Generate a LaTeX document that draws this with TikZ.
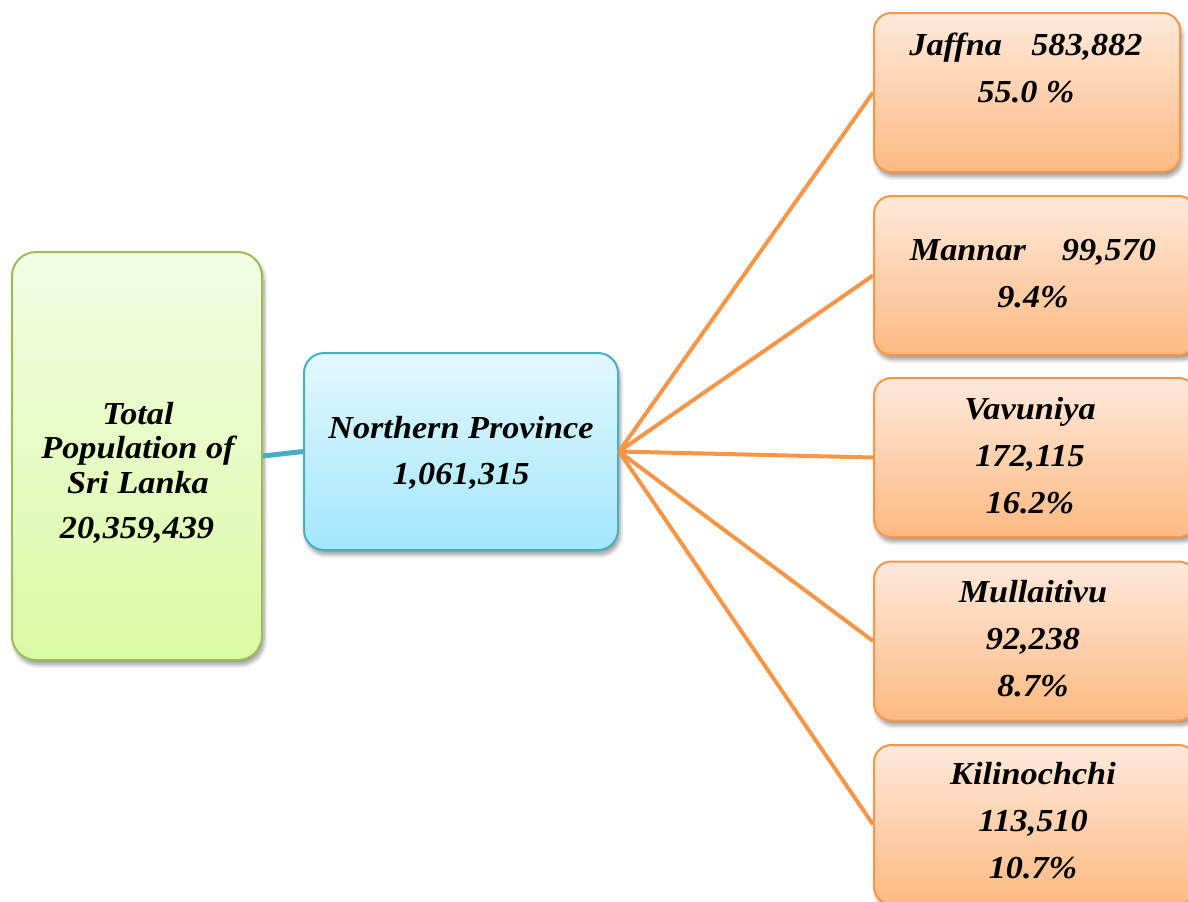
\documentclass[tikz,border=0pt]{standalone}
\usepackage{fontspec}
\setmainfont[FakeStretch=1.07]{Liberation Serif}
\usetikzlibrary{shadows.blur}
\definecolor{gbord}{HTML}{9BBB59}
\definecolor{gtop}{HTML}{F2FDE4}
\definecolor{gbot}{HTML}{DBFAA4}
\definecolor{bbord}{HTML}{4BACC6}
\definecolor{btop}{HTML}{E2F8FE}
\definecolor{bbot}{HTML}{A2E7FB}
\definecolor{obord}{HTML}{F79646}
\definecolor{otop}{HTML}{FEE9DB}
\definecolor{obot}{HTML}{FDBA82}
\tikzset{
  shad/.style={blur shadow={shadow xshift=1.5pt, shadow yshift=-3.5pt, shadow blur radius=3pt, shadow blur steps=8, shadow opacity=40}},
  gbox/.style={draw=gbord, line width=1.5pt, rounded corners=18pt, top color=gtop, bottom color=gbot, minimum width=187.5pt, minimum height=306pt, shad},
  bbox/.style={draw=bbord, line width=1.5pt, rounded corners=15pt, top color=btop, bottom color=bbot, minimum width=235.5pt, minimum height=147.75pt, shad},
  obox/.style={draw=obord, line width=1.5pt, rounded corners=13pt, top color=otop, bottom color=obot, minimum width=241.5pt, minimum height=119.25pt, shad},
  txt/.style={font=\fontsize{24}{26}\selectfont\bfseries\itshape, align=center, inner sep=0pt},
  otxt/.style={font=\fontsize{24}{35.25}\selectfont\bfseries\itshape, align=center, inner sep=0pt, anchor=north},
  bline/.style={draw=bbord, line width=3.75pt},
  oline/.style={draw=obord, line width=3pt}
}
\begin{document}
\begin{tikzpicture}[x=0.75pt, y=-0.75pt]
\useasboundingbox (0,0) rectangle (1188,901);
% boxes
\node[gbox] (g) at (137,456) {};
\node[bbox] (b) at (461,451.5) {};
\node[obox, minimum width=229.5pt] (j) at (1027,92.5) {};
\node[obox] (m) at (1035,275.5) {};
\node[obox] (v) at (1035,457.5) {};
\node[obox] (u) at (1035,641) {};
\node[obox] (k) at (1035,824.5) {};
% texts
\node[txt] (gt) at (138,448) {Total\\Population of\\Sri Lanka};
\node[txt] (gn) at (137,530) {20,359,439};
\node[txt, font=\fontsize{24}{34}\selectfont\bfseries\itshape] (bt) at (461,453) {Northern Province\\1,061,315};
\node[otxt] (jt) at (1026,33) {Jaffna\hspace{22pt}583,882\\55.0 \%};
\node[otxt] (mt) at (1033,239) {Mannar\hspace{27pt}99,570\\9.4\%};
\node[otxt] (vt) at (1030,397) {Vavuniya\\172,115\\16.2\%};
\node[otxt] (ut) at (1033,580) {Mullaitivu\\92,238\\8.7\%};
\node[otxt] (kt) at (1033,762) {Kilinochchi\\113,510\\10.7\%};
% connectors
\draw[bline] (g.east) -- (b.west);
\foreach \t in {j,m,v,u,k} \draw[oline] (b.east) -- (\t.west);
\end{tikzpicture}
\end{document}
